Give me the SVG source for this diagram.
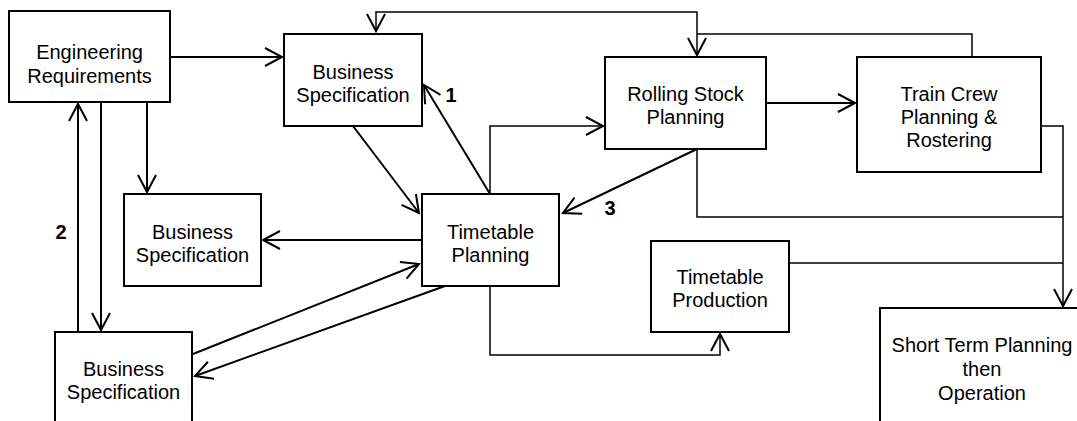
<svg xmlns="http://www.w3.org/2000/svg" width="1077" height="421" viewBox="0 0 1077 421">
  <style>
    .box { fill: #fff; stroke: #000; stroke-width: 2; }
    .lbl { font-family: "Liberation Sans", Arial, sans-serif; font-size: 20px; fill: #000; text-anchor: middle; }
    .num { font-family: "Liberation Sans", Arial, sans-serif; font-size: 20px; font-weight: bold; fill: #000; text-anchor: middle; }
    .arrow { fill: none; stroke: #000; stroke-width: 2; marker-end: url(#head); }
    .route { fill: none; stroke: #000; stroke-width: 1.5; }
    .route-arrow { fill: none; stroke: #000; stroke-width: 1.5; marker-end: url(#head); }
  </style>
  <defs>
    <marker id="head" viewBox="-20 -12 24 24" markerWidth="24" markerHeight="24" refX="0" refY="0" orient="auto-start-reverse" markerUnits="userSpaceOnUse">
      <path d="M-17,-9 L0,0 L-17,9" fill="none" stroke="#000" stroke-width="2"/>
    </marker>
  </defs>

  <rect width="1077" height="421" fill="#fff"/>

  <!-- connectors -->
  <g id="connectors">
    <!-- Engineering Requirements to the three business specifications -->
    <path class="arrow" d="M170,57 H282"/>
    <path class="arrow" d="M147,102 V192"/>
    <path class="arrow" d="M101,102 V330"/>
    <path class="arrow" d="M78,332 V104"/>

    <!-- business specification <-> rolling stock, over the top -->
    <path class="route-arrow" d="M376,31 V12 H697 V55" marker-start="url(#head)"/>
    <!-- train crew feedback into rolling stock -->
    <path class="route" d="M972,57 V34 H697"/>

    <!-- rolling stock to train crew -->
    <path class="arrow" d="M766,103 H855"/>

    <!-- feeds into short term planning -->
    <path class="route-arrow" d="M1041,126 H1063 V306"/>
    <path class="route" d="M697,149 V217 H1063"/>
    <path class="route" d="M789,263 H1063"/>

    <!-- timetable planning outputs -->
    <path class="route-arrow" d="M490,194 V126 H603"/>
    <path class="route-arrow" d="M490,286 V355 H720 V334"/>
    <path class="arrow" d="M490,194 L424,85"/>
    <path class="arrow" d="M353,126 L419,213"/>
    <path class="arrow" d="M697,149 L563,213"/>
    <path class="arrow" d="M422,240 H263"/>
    <path class="arrow" d="M193,354 L419,264"/>
    <path class="arrow" d="M445,286 L195,376"/>
  </g>

  <g id="eng-req">
    <rect class="box" x="9" y="11" width="161" height="91"/>
    <text class="lbl" x="89.5" y="59">Engineering</text>
    <text class="lbl" x="89.5" y="83">Requirements</text>
  </g>

  <g id="bus-spec-top">
    <rect class="box" x="284" y="34" width="138" height="92"/>
    <text class="lbl" x="353" y="79">Business</text>
    <text class="lbl" x="353" y="102">Specification</text>
  </g>

  <g id="bus-spec-mid">
    <rect class="box" x="124" y="194" width="137" height="92"/>
    <text class="lbl" x="192.5" y="239">Business</text>
    <text class="lbl" x="192.5" y="262">Specification</text>
  </g>

  <g id="bus-spec-low">
    <rect class="box" x="55" y="332" width="137" height="100"/>
    <text class="lbl" x="123.5" y="376">Business</text>
    <text class="lbl" x="123.5" y="399">Specification</text>
  </g>

  <g id="timetable-planning">
    <rect class="box" x="422" y="194" width="137" height="92"/>
    <text class="lbl" x="490.5" y="239">Timetable</text>
    <text class="lbl" x="490.5" y="262">Planning</text>
  </g>

  <g id="rolling-stock">
    <rect class="box" x="605" y="57" width="161" height="92"/>
    <text class="lbl" x="685.5" y="101">Rolling Stock</text>
    <text class="lbl" x="685.5" y="124">Planning</text>
  </g>

  <g id="train-crew">
    <rect class="box" x="857" y="57" width="184" height="115"/>
    <text class="lbl" x="949" y="101">Train Crew</text>
    <text class="lbl" x="949" y="124">Planning &amp;</text>
    <text class="lbl" x="949" y="147">Rostering</text>
  </g>

  <g id="timetable-production">
    <rect class="box" x="651" y="241" width="138" height="91"/>
    <text class="lbl" x="720" y="284">Timetable</text>
    <text class="lbl" x="720" y="307">Production</text>
  </g>

  <g id="short-term">
    <rect class="box" x="880" y="308" width="210" height="130"/>
    <text class="lbl" x="982" y="352">Short Term Planning</text>
    <text class="lbl" x="982" y="376">then</text>
    <text class="lbl" x="982" y="400">Operation</text>
  </g>

  <g id="labels">
    <text class="num" x="451" y="102">1</text>
    <text class="num" x="61" y="239">2</text>
    <text class="num" x="610" y="215">3</text>
  </g>
</svg>
